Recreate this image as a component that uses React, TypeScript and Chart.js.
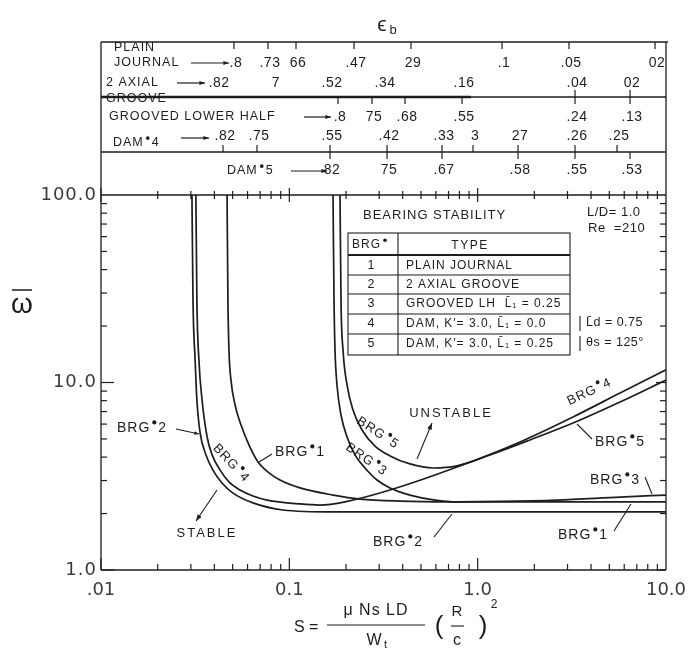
import { useEffect, useRef } from "react";
import { Chart, registerables } from "chart.js";

Chart.register(...registerables);

// Stability threshold curves: Sommerfeld number S against threshold parameter ω̄
const brg1S = [0.0467, 0.0472, 0.0478, 0.049, 0.0515, 0.0554, 0.0611, 0.0682, 0.0771, 0.0892, 0.114, 0.171, 0.237, 0.387, 0.713, 10];
const brg1W = [100, 27.5, 14.9, 10.3, 7.59, 5.93, 4.64, 3.77, 3.33, 3.02, 2.74, 2.51, 2.39, 2.33, 2.31, 2.31];

const brg2S = [0.0304, 0.0308, 0.0316, 0.0323, 0.0336, 0.0361, 0.0393, 0.0439, 0.0502, 0.0641, 0.0926, 0.171, 10];
const brg2W = [100, 27.5, 13.2, 8.07, 5.38, 4.11, 3.41, 2.91, 2.57, 2.28, 2.09, 2.04, 2.04];

const brg3S = [0.1706, 0.1727, 0.1748, 0.1791, 0.1881, 0.2025, 0.2232, 0.2522, 0.2921, 0.3424, 0.4373, 0.5937, 0.7768, 1.314, 2.638, 5.7, 10];
const brg3W = [100, 27.5, 14.9, 9.7, 6.71, 5.12, 4.11, 3.5, 3.02, 2.74, 2.51, 2.36, 2.31, 2.32, 2.36, 2.45, 2.51];

const brg4S = [0.0319, 0.0323, 0.0331, 0.0344, 0.0366, 0.0389, 0.0429, 0.0478, 0.0547, 0.0641, 0.0761, 0.114, 0.1455, 0.1976, 0.3424, 0.7768, 1.678, 3.208, 5.7, 10];
const brg4W = [100, 27.5, 13.2, 8.07, 5.12, 4.11, 3.41, 2.95, 2.67, 2.48, 2.36, 2.25, 2.22, 2.31, 2.67, 3.54, 4.82, 6.55, 8.79, 11.7];

const brg5S = [0.1858, 0.1881, 0.1928, 0.2025, 0.2178, 0.2432, 0.2851, 0.3424, 0.4373, 0.5795, 0.7768, 1.163, 1.896, 3.208, 5.7, 10];
const brg5W = [100, 27.5, 14.9, 9.7, 7.13, 5.58, 4.58, 4.06, 3.68, 3.5, 3.59, 4.11, 4.94, 6.08, 7.87, 10.3];

// Eccentricity ε_b reached at each S, one row per bearing type
const plainEpsS = [0.0508, 0.077, 0.1085, 0.2205, 0.4426, 1.347, 3.055, 8.745];
const plainEpsText = [".8", ".73", "66", ".47", "29", ".1", ".05", "02"];
const axialEpsS = [0.0413, 0.0829, 0.1644, 0.3145, 0.8259, 3.287, 6.442];
const axialEpsText = [".82", "7", ".52", ".34", ".16", ".04", "02"];
const lowerHalfEpsS = [0.1813, 0.2748, 0.4114, 0.8259, 3.287, 6.442];
const lowerHalfEpsText = [".8", "75", ".68", ".55", ".24", ".13"];
const dam4EpsS = [0.04444, 0.06734, 0.1644, 0.3302, 0.6467, 0.9448, 1.638, 3.287, 5.495];
const dam4EpsText = [".82", ".75", ".55", ".42", ".33", "3", "27", ".26", ".25"];
const dam5EpsS = [0.1644, 0.3302, 0.6467, 1.638, 3.287, 6.442];
const dam5EpsText = ["82", "75", ".67", ".58", ".55", ".53"];

// Axis ticks
const xTicks = [0.01, 0.1, 1, 10];
const xTickText = [".01", "0.1", "1.0", "10.0"];
const yTicks = [1, 10, 100];
const yTickText = ["1.0", "10.0", "100.0"];

// Bearing legend table
const bearingNumbers = ["1", "2", "3", "4", "5"];
const bearingTypes = [
  "PLAIN JOURNAL",
  "2 AXIAL GROOVE",
  "GROOVED LH  L\u0304\u2081 = 0.25",
  "DAM, K\u2032= 3.0, L\u0304\u2081 = 0.0",
  "DAM, K\u2032= 3.0, L\u0304\u2081 = 0.25",
];

const INK = "#1d1d1d";
const FONT = "'Liberation Sans', Arial, sans-serif";
const NUM_FONT = "'DejaVu Sans', sans-serif";

function pts(xs: number[], ys: number[]) {
  return xs.map((x, i) => ({ x, y: ys[i] }));
}

function seg(ctx: any, x1: number, y1: number, x2: number, y2: number) {
  ctx.beginPath();
  ctx.moveTo(x1, y1);
  ctx.lineTo(x2, y2);
  ctx.stroke();
}

function arrow(ctx: any, x1: number, y1: number, x2: number, y2: number, size = 6) {
  seg(ctx, x1, y1, x2, y2);
  const a = Math.atan2(y2 - y1, x2 - x1);
  ctx.beginPath();
  ctx.moveTo(x2, y2);
  ctx.lineTo(x2 - size * Math.cos(a - 0.35), y2 - size * Math.sin(a - 0.35));
  ctx.lineTo(x2 - size * Math.cos(a + 0.35), y2 - size * Math.sin(a + 0.35));
  ctx.closePath();
  ctx.fill();
}

function text(ctx: any, s: string, x: number, y: number, size: number, align = "left", spacing = 0, font = FONT) {
  ctx.font = `${size}px ${font}`;
  ctx.textAlign = align;
  ctx.textBaseline = "middle";
  ctx.letterSpacing = `${spacing}px`;
  ctx.fillText(s, x, y);
  ctx.letterSpacing = "0px";
}

// "BRG" followed by a raised dot and the bearing number
function tag(ctx: any, word: string, n: string, x: number, y: number, angle = 0, size = 14) {
  ctx.save();
  ctx.translate(x, y);
  ctx.rotate(angle);
  ctx.font = `${size}px ${FONT}`;
  ctx.textAlign = "left";
  ctx.textBaseline = "middle";
  ctx.letterSpacing = "1px";
  ctx.fillText(word, 0, 0);
  const w = ctx.measureText(word).width;
  ctx.beginPath();
  ctx.arc(w + 4, -size * 0.4, size * 0.15, 0, Math.PI * 2);
  ctx.fill();
  ctx.fillText(n, w + 8, 0);
  ctx.restore();
}

const paper = {
  id: "paper",
  beforeDraw(chart: any) {
    const { ctx, width, height } = chart;
    ctx.save();
    ctx.fillStyle = "#fff";
    ctx.fillRect(0, 0, width, height);
    ctx.restore();
  },
};

const frame = {
  id: "frame",
  afterDraw(chart: any) {
    const { ctx, chartArea: a } = chart;
    const px = (v: number) => chart.scales.x.getPixelForValue(v);
    const py = (v: number) => chart.scales.y.getPixelForValue(v);
    const boxTop = a.top - 153;
    const line1 = a.top - 98;
    const line2 = a.top - 43;

    ctx.save();
    ctx.strokeStyle = INK;
    ctx.fillStyle = INK;
    ctx.lineWidth = 1.3;

    // frame of plot and ε_b strip
    seg(ctx, a.left, boxTop, a.left, a.bottom);
    seg(ctx, a.right, boxTop, a.right, a.bottom);
    seg(ctx, a.left, boxTop, a.right + 2, boxTop);
    seg(ctx, a.left, line1, a.right, line1);
    seg(ctx, a.left, line2, a.right, line2);
    seg(ctx, a.left, a.top, a.right, a.top);
    seg(ctx, a.left, a.bottom, a.right, a.bottom);
    ctx.lineWidth = 2.6;
    seg(ctx, a.left, line1, a.left + 370, line1);
    ctx.lineWidth = 1.2;

    // log ticks, x
    for (const d of [0.01, 0.1, 1]) {
      for (let m = 1; m <= 9; m++) {
        const x = px(d * m);
        const major = m === 1;
        seg(ctx, x, a.bottom, x, a.bottom - (major ? 12 : 6));
        seg(ctx, x, a.top - (major ? 7 : 4), x, a.top + (major ? 7 : 4));
      }
    }
    // log ticks, y
    for (const d of [1, 10]) {
      for (let m = 1; m <= 9; m++) {
        const y = py(d * m);
        const major = m === 1;
        seg(ctx, a.left, y, a.left + (major ? 13 : 6), y);
        seg(ctx, a.right - (major ? 10 : 6), y, a.right, y);
      }
    }

    // tick labels
    ctx.fillStyle = "#3a3a3a";
    xTicks.forEach((v, i) => text(ctx, xTickText[i], px(v), a.bottom + 20, 18, "center", 0, NUM_FONT));
    yTicks.forEach((v, i) => text(ctx, yTickText[i], a.left - 4, py(v), 18, "right", 1, NUM_FONT));
    ctx.fillStyle = INK;

    // ε_b rows: values, label text, reference line, tick direction, label row, first index with a tick
    const rows = [
      { s: plainEpsS, t: plainEpsText, line: boxTop, dir: 1, ly: boxTop + 21, from: 0 },
      { s: axialEpsS, t: axialEpsText, line: line1, dir: -1, ly: boxTop + 41, from: 5 },
      { s: lowerHalfEpsS, t: lowerHalfEpsText, line: line1, dir: 1, ly: line1 + 20, from: 0 },
      { s: dam4EpsS, t: dam4EpsText, line: line2, dir: -1, ly: line2 - 16, from: 0 },
      { s: dam5EpsS, t: dam5EpsText, line: line2, dir: 1, ly: line2 + 18, from: 0 },
    ];
    for (const r of rows) {
      r.s.forEach((v, i) => {
        const x = px(v);
        if (i >= r.from) seg(ctx, x, r.line, x, r.line + r.dir * 7);
        text(ctx, r.t[i], x + 2, r.ly, 14, "center", 0.5);
      });
    }

    // ε_b heading
    text(ctx, "\u03f5", a.left + 281, boxTop - 17, 21, "center");
    text(ctx, "b", a.left + 292, boxTop - 12, 13, "center");

    // row names
    text(ctx, "PLAIN", a.left + 13, boxTop + 6, 12.5, "left", 1);
    text(ctx, "JOURNAL", a.left + 13, boxTop + 21, 12.5, "left", 1);
    arrow(ctx, a.left + 90, boxTop + 21, a.left + 128, boxTop + 21, 6);
    text(ctx, "2 AXIAL", a.left + 5, boxTop + 41, 12.5, "left", 1);
    arrow(ctx, a.left + 76, boxTop + 41, a.left + 104, boxTop + 41, 6);
    text(ctx, "GROOVE", a.left + 5, line1 + 2, 12.5, "left", 1);
    text(ctx, "GROOVED LOWER HALF", a.left + 8, line1 + 20, 12.5, "left", 1);
    arrow(ctx, a.left + 203, line1 + 20, a.left + 230, line1 + 20, 6);
    tag(ctx, "DAM", "4", a.left + 12, line2 - 9, 0, 12.5);
    arrow(ctx, a.left + 80, line2 - 14, a.left + 108, line2 - 14, 6);
    tag(ctx, "DAM", "5", a.left + 126, line2 + 19, 0, 12.5);
    arrow(ctx, a.left + 190, line2 + 19, a.left + 226, line2 + 19, 6);

    // title box and legend table
    text(ctx, "BEARING STABILITY", 363, 215, 13, "left", 1);
    text(ctx, "L/D= 1.0", 587, 212, 13, "left", 0.5);
    text(ctx, "Re  =210", 588, 228, 13, "left", 0.5);

    ctx.lineWidth = 1.1;
    ctx.strokeRect(348, 233, 222, 122);
    seg(ctx, 398, 233, 398, 355);
    ctx.lineWidth = 1.8;
    seg(ctx, 348, 255, 570, 255);
    ctx.lineWidth = 1.1;
    [275, 294, 314, 334].forEach((y) => seg(ctx, 348, y, 570, y));
    tag(ctx, "BRG", "", 352, 245, 0, 12);
    text(ctx, "TYPE", 470, 246, 12, "center", 1.5);
    const rowY = [266, 285, 304, 324, 344];
    bearingNumbers.forEach((n, i) => {
      text(ctx, n, 371, rowY[i], 12.5, "center");
      text(ctx, bearingTypes[i], 406, rowY[i], 12, "left", 1);
    });
    seg(ctx, 580, 316, 580, 331);
    seg(ctx, 580, 336, 580, 351);
    text(ctx, "L\u0304d = 0.75", 586, 323, 12.5, "left", 0.5);
    text(ctx, "\u03b8s = 125\u00b0", 586, 343, 12.5, "left", 0.5);

    // curve labels
    tag(ctx, "BRG", "2", 117, 428);
    arrow(ctx, 176, 429, 199, 434, 5);
    tag(ctx, "BRG", "4", 215, 446, 0.82, 13);
    tag(ctx, "BRG", "1", 275, 452);
    seg(ctx, 272, 454, 259, 462);
    text(ctx, "STABLE", 207, 533, 13, "center", 2);
    arrow(ctx, 217, 490, 196, 521, 7);
    text(ctx, "UNSTABLE", 451, 413, 13, "center", 2);
    arrow(ctx, 417, 459, 432, 423, 7);
    tag(ctx, "BRG", "5", 358, 420, 0.58, 13);
    tag(ctx, "BRG", "3", 347, 446, 0.61, 13);
    tag(ctx, "BRG", "4", 568, 402, -0.44, 13);
    tag(ctx, "BRG", "5", 595, 442);
    seg(ctx, 592, 439, 577, 424);
    tag(ctx, "BRG", "3", 590, 480);
    seg(ctx, 645, 477, 652, 494);
    tag(ctx, "BRG", "2", 373, 542);
    seg(ctx, 434, 537, 452, 514);
    tag(ctx, "BRG", "1", 558, 535);
    seg(ctx, 614, 531, 631, 504);

    // y title ω̄
    text(ctx, "\u03c9", 22, 305, 28, "center");
    ctx.lineWidth = 1.5;
    seg(ctx, 12, 290, 32, 290);

    // x title S = μNsLD/Wt (R/c)²
    ctx.lineWidth = 1.1;
    text(ctx, "S =", 294, 628, 16, "left");
    text(ctx, "\u03bc Ns LD", 376, 611, 16, "center", 1);
    seg(ctx, 327, 625, 425, 625);
    text(ctx, "W", 374, 641, 16, "center");
    text(ctx, "t", 384, 645, 11, "left");
    text(ctx, "(", 439, 627, 26, "center");
    text(ctx, "R", 457, 612, 15, "center");
    seg(ctx, 451, 626, 464, 626);
    text(ctx, "c", 457, 641, 16, "center");
    text(ctx, ")", 483, 627, 26, "center");
    text(ctx, "2", 494, 605, 12, "center");

    ctx.restore();
  },
};

export default function App() {
  const ref = useRef<HTMLCanvasElement>(null);
  useEffect(() => {
    document.body.style.margin = "0";
    const curve = (xs: number[], ys: number[]) => ({
      data: pts(xs, ys),
      borderColor: INK,
      borderWidth: 1.7,
      pointRadius: 0,
      cubicInterpolationMode: "monotone" as const,
      fill: false,
    });
    const chart = new Chart(ref.current as HTMLCanvasElement, {
      type: "line",
      data: {
        datasets: [
          curve(brg1S, brg1W),
          curve(brg2S, brg2W),
          curve(brg3S, brg3W),
          curve(brg4S, brg4W),
          curve(brg5S, brg5W),
        ],
      },
      options: {
        animation: false,
        responsive: false,
        maintainAspectRatio: false,
        parsing: false as any,
        layout: { padding: { left: 101, right: 27, top: 195, bottom: 81 } },
        plugins: { legend: { display: false }, tooltip: { enabled: false } },
        scales: {
          x: { type: "logarithmic", min: 0.01, max: 10, display: false },
          y: { type: "logarithmic", min: 1, max: 100, display: false },
        },
      },
      plugins: [paper, frame],
    });
    return () => chart.destroy();
  }, []);
  return <canvas ref={ref} width={693} height={651} style={{ display: "block", width: 693, height: 651 }} />;
}
